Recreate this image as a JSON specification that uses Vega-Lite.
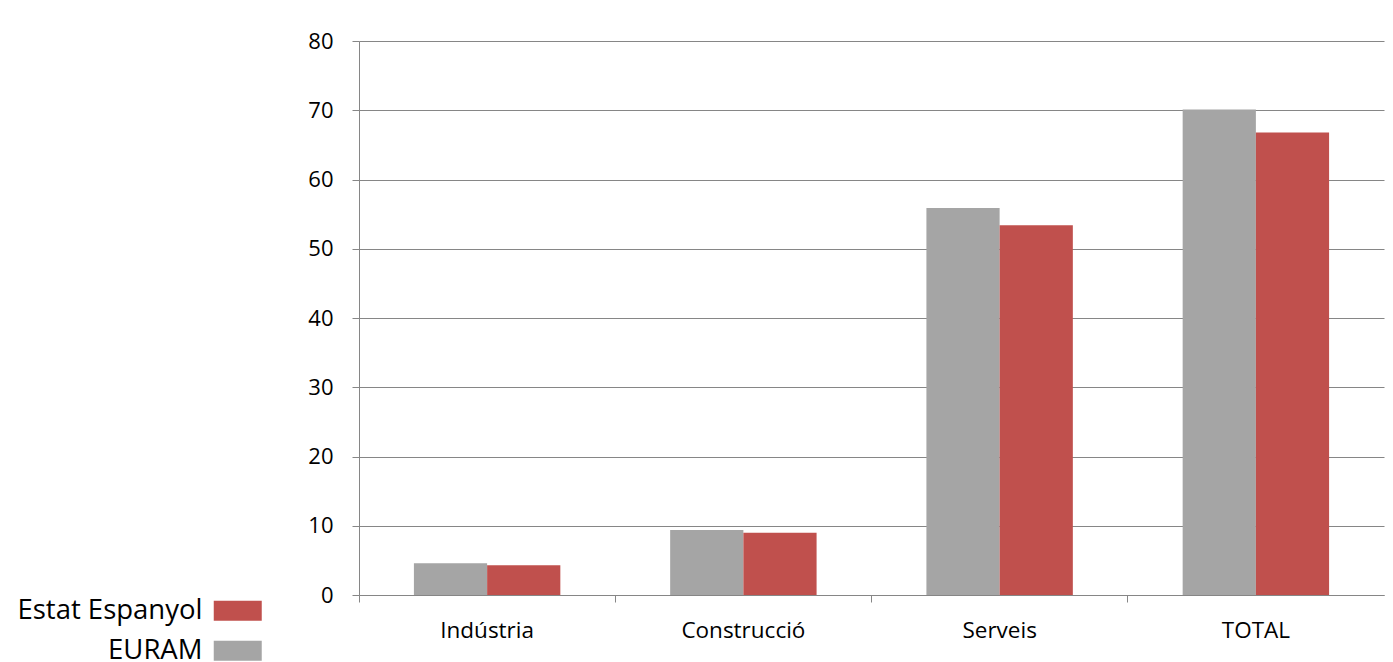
{
  "$schema": "https://vega.github.io/schema/vega-lite/v6.json",
  "autosize": {"type": "none"},
  "width": 1025,
  "height": 554,
  "padding": {"left": 359, "top": 41, "right": 9, "bottom": 67},
  "background": "white",
  "data": {
    "values": [
      {"sector": "Indústria", "serie": "EURAM", "valor": 4.6},
      {"sector": "Indústria", "serie": "Estat Espanyol", "valor": 4.3},
      {"sector": "Construcció", "serie": "EURAM", "valor": 9.4},
      {"sector": "Construcció", "serie": "Estat Espanyol", "valor": 9.0},
      {"sector": "Serveis", "serie": "EURAM", "valor": 55.9},
      {"sector": "Serveis", "serie": "Estat Espanyol", "valor": 53.4},
      {"sector": "TOTAL", "serie": "EURAM", "valor": 70.1},
      {"sector": "TOTAL", "serie": "Estat Espanyol", "valor": 66.8}
    ]
  },
  "mark": {"type": "bar"},
  "encoding": {
    "x": {
      "field": "sector",
      "type": "nominal",
      "sort": ["Indústria", "Construcció", "Serveis", "TOTAL"],
      "scale": {"paddingInner": 0, "paddingOuter": 0},
      "axis": {
        "title": null,
        "labelAngle": 0,
        "labelFontSize": 22.5,
        "labelColor": "#000000",
        "labelPadding": 17,
        "bandPosition": 0,
        "tickSize": 7,
        "tickColor": "#868686",
        "domainColor": "#868686",
        "grid": false
      }
    },
    "xOffset": {
      "field": "serie",
      "sort": ["EURAM", "Estat Espanyol"],
      "scale": {"paddingOuter": 0.75, "paddingInner": 0}
    },
    "y": {
      "field": "valor",
      "type": "quantitative",
      "scale": {"domain": [0, 80]},
      "axis": {
        "title": null,
        "values": [0, 10, 20, 30, 40, 50, 60, 70, 80],
        "labelFontSize": 22,
        "labelColor": "#000000",
        "labelPadding": 19,
        "tickSize": 7,
        "tickColor": "#868686",
        "domainColor": "#868686",
        "gridColor": "#868686",
        "gridWidth": 1.2
      }
    },
    "color": {
      "field": "serie",
      "type": "nominal",
      "scale": {"domain": ["Estat Espanyol", "EURAM"], "range": ["#C0504D", "#A5A5A5"]},
      "legend": {
        "title": null,
        "orient": "none",
        "legendX": -135,
        "legendY": 556,
        "direction": "vertical",
        "symbolType": "M-1.846,-0.769 h3.692 v1.538 h-3.692 z",
        "symbolSize": 676,
        "symbolStrokeWidth": 0,
        "labelFontSize": 27.5,
        "labelLimit": 400,
        "labelColor": "#000000",
        "labelAlign": "right",
        "labelOffset": -49,
        "rowPadding": 11
      }
    }
  },
  "config": {
    "view": {"stroke": null},
    "font": "Open Sans"
  }
}
